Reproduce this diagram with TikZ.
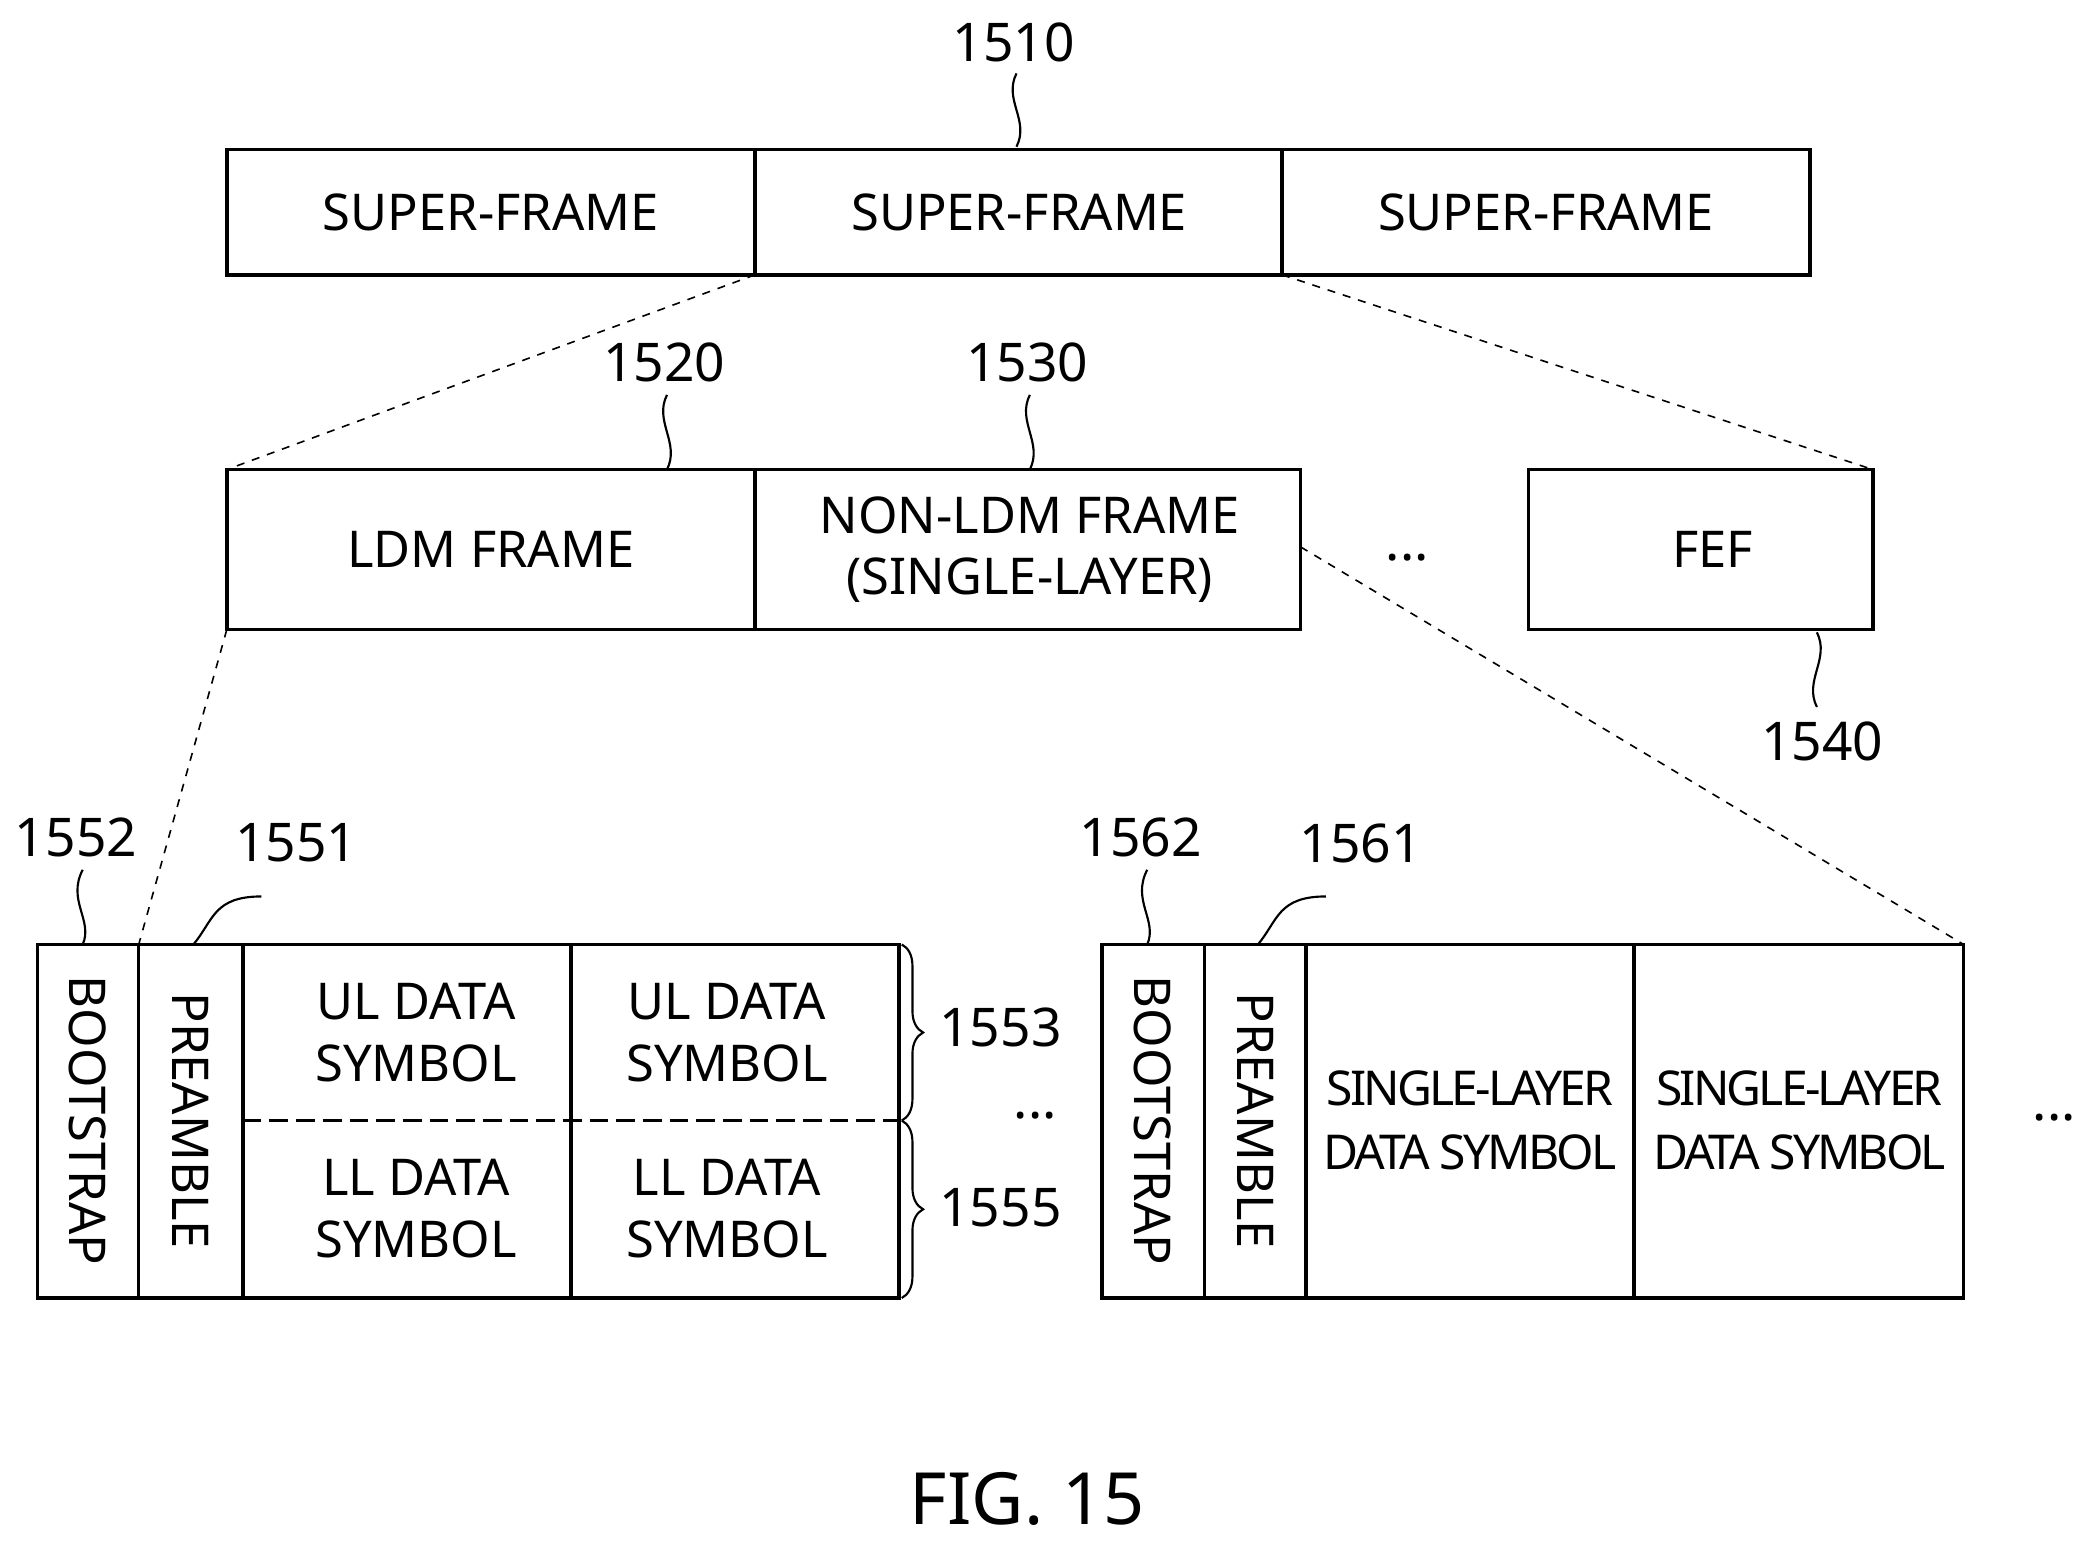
\documentclass[tikz,border=0pt]{standalone}
\usepackage{fontspec}
\setmainfont{Noto Sans}
\usetikzlibrary{decorations.pathreplacing}
\begin{document}
\begin{tikzpicture}[x=0.5pt,y=-0.5pt,
 box/.style={draw,line width=1.3pt},
 txt/.style={font=\fontsize{19}{23}\selectfont,align=center},
 lbl/.style={font=\fontsize{20}{24}\selectfont},
 dsh/.style={dashed,line width=0.6pt},
 sq/.style={line width=0.8pt}]
\useasboundingbox (0,0) rectangle (1566,1163);
% top row
\draw[box] (170,112) rectangle (1357,206);
\draw[box] (566,112)--(566,206) (961,112)--(961,206);
\node[txt] (s1) at (368,159) {SUPER-FRAME};
\node[txt] (s2) at (764,159) {SUPER-FRAME};
\node[txt] (s3) at (1159,159) {SUPER-FRAME};
\node[lbl] (l1510) at (760,32) {1510};
\draw[sq] (762,55) .. controls (752,75) and (772,90) .. (762,110);
% second row
\draw[box] (170,352) rectangle (975,472);
\draw[box] (566,352)--(566,472);
\node[txt] (ldm) at (368,412) {LDM FRAME};
\node[txt] (nonldm) at (772,412) {NON-LDM FRAME\\(SINGLE-LAYER)};
\draw[box] (1146,352) rectangle (1404,472);
\node[txt] (fef) at (1284,412) {FEF};
\node[lbl] (d1) at (1055,418) {...};
\node[lbl] (l1520) at (498,272) {1520};
\draw[sq] (500,296) .. controls (490,316) and (510,332) .. (500,352);
\node[lbl] (l1530) at (770,272) {1530};
\draw[sq] (772,296) .. controls (762,316) and (782,332) .. (772,352);
\node[lbl] (l1540) at (1366,556) {1540};
\draw[sq] (1362,474) .. controls (1372,494) and (1352,510) .. (1362,530);
% dashed
\draw[dsh] (566,206)--(170,352);
\draw[dsh] (961,206)--(1404,352);
\draw[dsh] (170,472)--(104,708);
\draw[dsh] (975,410)--(1472,708);
% bottom left
\draw[box] (28,708) rectangle (674,973);
\draw[box] (104,708)--(104,973) (182,708)--(182,973) (428,708)--(428,973);
\draw[dash pattern=on 7pt off 3pt,line width=1.3pt] (182,840)--(674,840);
\node[txt,rotate=-90] (bs1) at (66,840) {BOOTSTRAP};
\node[txt,rotate=-90] (pr1) at (143,840) {PREAMBLE};
\node[txt] (ul1) at (312,774) {UL DATA\\SYMBOL};
\node[txt] (ul2) at (545,774) {UL DATA\\SYMBOL};
\node[txt] (ll1) at (312,906) {LL DATA\\SYMBOL};
\node[txt] (ll2) at (545,906) {LL DATA\\SYMBOL};
\draw[decorate,decoration={brace,amplitude=8pt},line width=0.8pt] (676,708)--(676,840);
\draw[decorate,decoration={brace,amplitude=8pt},line width=0.8pt] (676,840)--(676,973);
\node[lbl] (l1553) at (750,770) {1553};
\node[lbl] (l1555) at (750,905) {1555};
\node[lbl] (d2) at (776,836) {...};
\node[lbl] (l1552) at (57,628) {1552};
\draw[sq] (62,652) .. controls (50,675) and (70,690) .. (62,708);
\node[lbl] (l1551) at (222,632) {1551};
\draw[sq] (196,672) .. controls (160,672) and (160,690) .. (145,708);
% bottom right
\draw[box] (826,708) rectangle (1472,973);
\draw[box] (903,708)--(903,973) (979,708)--(979,973) (1225,708)--(1225,973);
\node[txt,rotate=-90] (bs2) at (864,840) {BOOTSTRAP};
\node[txt,rotate=-90] (pr2) at (941,840) {PREAMBLE};
\node[txt,font=\fontsize{18}{24}\selectfont\addfontfeature{LetterSpace=-6}] (sl1) at (1102,840) {SINGLE-LAYER\\DATA SYMBOL};
\node[txt,font=\fontsize{18}{24}\selectfont\addfontfeature{LetterSpace=-6}] (sl2) at (1349,840) {SINGLE-LAYER\\DATA SYMBOL};
\node[lbl] (l1562) at (855,628) {1562};
\draw[sq] (860,652) .. controls (848,675) and (868,690) .. (860,708);
\node[lbl] (l1561) at (1020,632) {1561};
\draw[sq] (994,672) .. controls (958,672) and (958,690) .. (943,708);
\node[lbl] (d3) at (1540,838) {...};
\node[font=\fontsize{27}{32}\selectfont] (fig) at (770,1124) {FIG. 15};
\end{tikzpicture}
\end{document}
